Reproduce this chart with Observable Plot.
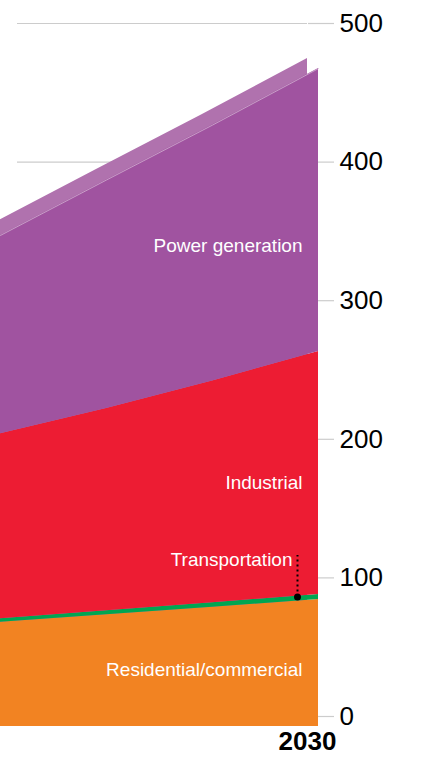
<!DOCTYPE html>
<html>
<head>
<meta charset="utf-8">
<script src="https://cdn.jsdelivr.net/npm/d3@7"></script>
<script src="https://cdn.jsdelivr.net/npm/@observablehq/plot@0.6"></script>
<style>
  html, body { margin: 0; padding: 0; background: #fff; }
  #chart { width: 426px; height: 757px; overflow: hidden; }
</style>
</head>
<body>
<div id="chart"></div>
<script>
// ---- data ----
const years = [2015, 2020, 2025, 2030];
const residential = [75.3, 80.7, 86.1, 91.6];
const transportation = [2.4, 2.8, 3.2, 3.6];
const industrial = [133.5, 145.9, 159.9, 175.4];
const power = [143.1, 164.9, 184.7, 204.1];
const sectors = ["Residential/commercial", "Transportation", "Industrial", "Power generation"];
const yTicks = [0, 100, 200, 300, 400, 500];
const gridTicks = [400, 500];
const xTicks = [2030];

// ---- tidy tables ----
const series = [residential, transportation, industrial, power];
const table = [];
sectors.forEach((s, i) => years.forEach((yr, j) => table.push({year: yr, sector: s, value: series[i][j]})));
const totals = years.map((yr, j) => ({year: yr, total: series.reduce((a, arr) => a + arr[j], 0)}));
const last = years.length - 1;
const transMid = residential[last] + transportation[last] / 2;

const colors = ["#f28322", "#00a651", "#ed1c33", "#a053a0"];
const FX = 11, FY = 10; // front-face extrusion offset
const labelFont = 19;

const plot = Plot.plot({
  width: 426,
  height: 757,
  marginTop: 23,
  marginBottom: 41,
  marginLeft: 0,
  marginRight: 119,
  style: {fontFamily: "'Liberation Sans', Arial, sans-serif", background: "white", overflow: "hidden"},
  x: {domain: [years[0], years[last]], range: [-FX, 307], axis: null},
  y: {domain: [0, 500], axis: null},
  color: {domain: sectors, range: colors},
  marks: [
    Plot.ruleY(gridTicks, {stroke: "#cccccc", strokeWidth: 1.2, insetLeft: 17}),
    Plot.axisY(yTicks, {anchor: "right", label: null, tickSize: 26, tickPadding: 6, stroke: "#cccccc", strokeWidth: 1.2, fill: "black", fontSize: 26, tickFormat: d => String(d)}),
    Plot.axisX(xTicks, {anchor: "bottom", label: null, tickSize: 0, tickPadding: 15, fontSize: 26, fontWeight: "bold", fill: "black", tickFormat: d => String(d)}),
    // back face (extrusion)
    Plot.areaY(totals, {x: "year", y: "total", fill: "#b072ae"}),
    // front face
    Plot.areaY(table, Plot.stackY({x: "year", y: "value", fill: "sector", order: sectors, dx: FX, dy: FY})),
    Plot.lineY(totals, {x: "year", y: "total", stroke: "#d2b0d0", strokeWidth: 0.8, dx: FX, dy: FY}),
    // labels
    Plot.text(["Power generation"], {x: years[last], y: 342, text: d => d, fill: "white", fontSize: labelFont, textAnchor: "end", lineAnchor: "bottom", dx: FX - 16, dy: FY}),
    Plot.text(["Industrial"], {x: years[last], y: 171, text: d => d, fill: "white", fontSize: labelFont, textAnchor: "end", lineAnchor: "bottom", dx: FX - 16, dy: FY}),
    Plot.text(["Transportation"], {x: years[last], y: 115.7, text: d => d, fill: "white", fontSize: labelFont, textAnchor: "end", lineAnchor: "bottom", dx: FX - 26, dy: FY}),
    Plot.text(["Residential/commercial"], {x: years[last], y: 36.1, text: d => d, fill: "white", fontSize: labelFont, textAnchor: "end", lineAnchor: "bottom", dx: FX - 16, dy: FY}),
    // transportation callout
    Plot.ruleX([years[last]], {y1: transMid, y2: transMid + 30, stroke: "black", strokeWidth: 2, strokeDasharray: "2,3", dx: FX - 21, dy: FY}),
    Plot.dot([years[last]], {x: d => d, y: transMid, r: 3.5, fill: "black", dx: FX - 21, dy: FY})
  ]
});
document.getElementById("chart").appendChild(plot);
</script>
</body>
</html>
